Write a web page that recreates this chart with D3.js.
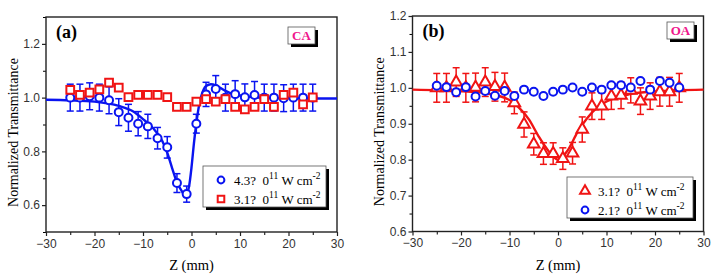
<!DOCTYPE html>
<html>
<head>
<meta charset="utf-8">
<script src="https://cdn.jsdelivr.net/npm/d3@7"></script>
<style>
  body { margin: 0; background: #fff; }
  svg { display: block; }
</style>
</head>
<body>
<script>
// z positions (mm), same for all series
var zPos = [-25, -23, -21, -19, -17, -15, -13, -11, -9, -7, -5, -3, -1,
            1, 3, 5, 7, 9, 11, 13, 15, 17, 19, 21, 23, 25];

// (a) closed aperture
var caBlue = [1.00, 1.00, 1.005, 1.00, 0.99, 0.946, 0.925, 0.903, 0.893, 0.849, 0.815, 0.682, 0.641,
              0.903, 1.012, 1.032, 1.00, 1.013, 1.001, 1.01, 1.00, 1.00, 0.998, 1.00, 1.00, 1.00];
var caBlueErr = [0.05, 0.05, 0.05, 0.05, 0.05, 0.05, 0.05, 0.045, 0.045, 0.04, 0.04, 0.035, 0.03,
                 0.035, 0.045, 0.05, 0.05, 0.05, 0.05, 0.05, 0.05, 0.05, 0.05, 0.05, 0.05, 0.05];
var caRed = [1.029, 1.010, 1.019, 1.031, 1.056, 1.037, 1.002, 1.010, 1.010, 1.010, 1.002, 0.966, 0.966,
             0.985, 0.994, 0.985, 0.994, 0.966, 0.956, 0.966, 0.994, 0.966, 1.01, 1.019, 0.975, 1.001];
var caFitZ = [-30, -25, -20, -15, -12, -10, -8, -6, -5, -4, -3, -2, -1.5, -1, -0.5, 0, 0.5,
              1, 1.5, 2, 2.5, 3, 4, 5, 6, 7, 8, 10, 13, 16, 20, 25, 30];
var caFitT = [0.992, 0.99, 0.985, 0.969, 0.948, 0.92, 0.888, 0.838, 0.795, 0.738, 0.685, 0.652, 0.640, 0.643, 0.67, 0.74, 0.83,
              0.905, 0.965, 1.005, 1.03, 1.043, 1.05, 1.046, 1.036, 1.025, 1.017, 1.008, 1.001, 0.999, 0.998, 0.997, 0.997];

// (b) open aperture
var oaRed = [1.0, 1.0, 1.016, 1.0, 1.001, 1.016, 1.003, 1.001, 0.958, 0.898, 0.843, 0.817, 0.817,
             0.803, 0.818, 0.884, 0.949, 0.949, 0.977, 0.979, 0.993, 0.963, 0.977, 0.989, 0.989, 1.0];
var oaRedErr = [0.04, 0.04, 0.04, 0.04, 0.04, 0.04, 0.04, 0.04, 0.03, 0.035, 0.03, 0.03, 0.03,
                0.03, 0.03, 0.035, 0.037, 0.037, 0.037, 0.037, 0.035, 0.037, 0.037, 0.04, 0.04, 0.04];
var oaBlue = [1.006, 1.002, 0.988, 1.002, 0.976, 0.991, 0.978, 0.991, 0.977, 0.995, 0.989, 0.977, 0.989,
              0.995, 1.001, 0.989, 1.001, 0.995, 1.007, 1.007, 1.001, 1.019, 0.995, 1.019, 1.014, 1.001];
var oaFitZ = [-30, -20, -15, -10, -8, -6, -4, -2, 0, 2, 4, 6, 8, 10, 15, 20, 30];
var oaFitT = [0.995, 0.991, 0.985, 0.966, 0.944, 0.912, 0.865, 0.825, 0.80, 0.826, 0.876, 0.915, 0.944, 0.962, 0.983, 0.99, 0.995];

var xTicks = [-30, -20, -10, 0, 10, 20, 30];

var BLUE = "#0a14f0", RED = "#f01414", PINK = "#f0168c";
var SERIF = "'Liberation Serif', 'Times New Roman', serif";
var SANS = "'Liberation Sans', Arial, sans-serif";

var svg = d3.select("body").append("svg")
    .attr("width", 719)
    .attr("height", 279);

function drawPanel(p) {
    var x = d3.scaleLinear().domain([-30, 30]).range([p.left, p.right]);
    var y = d3.scaleLinear().domain(p.yDomain).range([p.bottom, p.top]);
    var g = svg.append("g");

    // minor ticks
    g.append("g")
        .attr("transform", "translate(0," + p.bottom + ")")
        .call(d3.axisBottom(x).tickValues(d3.range(-25, 30, 10)).tickSize(3).tickFormat(""))
        .call(function (a) { a.select(".domain").remove(); });
    g.append("g")
        .attr("transform", "translate(" + p.left + ",0)")
        .call(d3.axisLeft(y).tickValues(p.yMinor).tickSize(3).tickFormat(""))
        .call(function (a) { a.select(".domain").remove(); });

    // major axes
    var ax = g.append("g")
        .attr("transform", "translate(0," + p.bottom + ")")
        .call(d3.axisBottom(x).tickValues(xTicks).tickSize(4).tickSizeOuter(0).tickPadding(3));
    var ay = g.append("g")
        .attr("transform", "translate(" + p.left + ",0)")
        .call(d3.axisLeft(y).tickValues(p.yTicks).tickSize(4).tickSizeOuter(0).tickPadding(2)
            .tickFormat(d3.format(".1f")));
    [ax, ay].forEach(function (a) {
        a.selectAll(".domain").remove();
        a.selectAll("line").attr("stroke", "#222").attr("stroke-width", 1.2);
        a.selectAll("text").style("font-family", SANS).style("font-size", "12px").attr("fill", "#333");
    });

    // frame
    g.append("rect")
        .attr("x", p.left).attr("y", p.top)
        .attr("width", p.right - p.left).attr("height", p.bottom - p.top)
        .attr("fill", "none").attr("stroke", "#222").attr("stroke-width", 1.4);

    // axis titles
    g.append("text")
        .attr("transform", "translate(" + p.yTitleX + "," + ((p.top + p.bottom) / 2 + 8) + ") rotate(-90)")
        .attr("text-anchor", "middle")
        .style("font-family", SERIF).style("font-size", "14px")
        .text("Normalized Transmittance");
    g.append("text")
        .attr("x", (p.left + p.right) / 2).attr("y", 270)
        .attr("text-anchor", "middle")
        .style("font-family", SERIF).style("font-size", "14.5px")
        .text("Z (mm)");

    // fit line
    var line = d3.line()
        .x(function (d) { return x(d[0]); })
        .y(function (d) { return y(d[1]); })
        .curve(d3.curveMonotoneX);
    g.append("path")
        .datum(d3.zip(p.fitZ, p.fitT))
        .attr("fill", "none")
        .attr("stroke", p.fitColor)
        .attr("stroke-width", 2.4)
        .attr("d", line);

    // series drawn in order
    p.series.forEach(function (s) {
        var data = zPos.map(function (z, i) {
            return { z: z, t: s.values[i], e: s.err ? s.err[i] : 0 };
        });
        var sg = g.append("g");
        if (s.err) {
            var eb = sg.selectAll(".eb").data(data).enter().append("g")
                .attr("stroke", s.color).attr("stroke-width", 1.5);
            eb.append("line")
                .attr("x1", function (d) { return x(d.z); })
                .attr("x2", function (d) { return x(d.z); })
                .attr("y1", function (d) { return y(d.t - d.e); })
                .attr("y2", function (d) { return y(d.t + d.e); });
            [-1, 1].forEach(function (sign) {
                eb.append("line")
                    .attr("x1", function (d) { return x(d.z) - 3.5; })
                    .attr("x2", function (d) { return x(d.z) + 3.5; })
                    .attr("y1", function (d) { return y(d.t + sign * d.e); })
                    .attr("y2", function (d) { return y(d.t + sign * d.e); });
            });
        }
        sg.selectAll(".mk").data(data).enter()
            .append("path")
            .attr("transform", function (d) { return "translate(" + x(d.z) + "," + y(d.t) + ")"; })
            .attr("d", marker(s.shape))
            .attr("fill", "#fff")
            .attr("stroke", s.color)
            .attr("stroke-width", 2);
    });

    // panel label
    g.append("text")
        .attr("x", p.left + 10).attr("y", p.top + 21)
        .style("font-family", SERIF).style("font-weight", "bold").style("font-size", "18px")
        .text(p.label);

    // CA / OA tag with shadow
    var tg = g.append("g").attr("transform", "translate(" + p.tag.x + "," + p.tag.y + ")");
    tg.append("rect").attr("x", 3).attr("y", 3).attr("width", 27).attr("height", 17).attr("fill", "#000");
    tg.append("rect").attr("width", 27).attr("height", 17)
        .attr("fill", "#fff").attr("stroke", "#555").attr("stroke-width", 0.8);
    tg.append("text")
        .attr("x", 13.5).attr("y", 13)
        .attr("text-anchor", "middle")
        .style("font-family", SERIF).style("font-weight", "bold").style("font-size", "13px")
        .attr("fill", PINK)
        .text(p.tag.text);

    // legend
    var lg = g.append("g").attr("transform", "translate(" + p.legend.x + "," + p.legend.y + ")");
    lg.append("rect").attr("x", 3).attr("y", 3).attr("width", p.legend.w).attr("height", 41).attr("fill", "#000");
    lg.append("rect").attr("width", p.legend.w).attr("height", 41)
        .attr("fill", "#fff").attr("stroke", "#555").attr("stroke-width", 0.8);
    p.legend.items.forEach(function (it, i) {
        var cy = 14 + i * 19;
        lg.append("path")
            .attr("transform", "translate(18," + cy + ")")
            .attr("d", marker(it.shape, 0.85))
            .attr("fill", "#fff").attr("stroke", it.color).attr("stroke-width", 2);
        var t = lg.append("text")
            .attr("x", 31).attr("y", cy + 5)
            .style("font-family", SERIF).style("font-size", "13px");
        t.append("tspan").text(it.value + "?\u00a0\u00a00");
        t.append("tspan").attr("dy", -6).style("font-size", "9.5px").text("11");
        t.append("tspan").attr("dy", 6).text("\u00a0W cm");
        t.append("tspan").attr("dy", -6).style("font-size", "9.5px").text("-2");
    });
}

function marker(shape, k) {
    k = k || 1;
    if (shape === "circle") return d3.symbol().type(d3.symbolCircle).size(50 * k * k)();
    if (shape === "square") return d3.symbol().type(d3.symbolSquare).size(60 * k * k)();
    return d3.symbol().type(d3.symbolTriangle).size(58 * k * k)();
}

drawPanel({
    left: 46, right: 337, top: 17, bottom: 232,
    yDomain: [0.5, 1.3], yTicks: [0.6, 0.8, 1.0, 1.2], yMinor: [0.5, 0.7, 0.9, 1.1, 1.3],
    yTitleX: 18, label: "(a)",
    fitZ: caFitZ, fitT: caFitT, fitColor: BLUE,
    series: [
        { values: caBlue, err: caBlueErr, color: BLUE, shape: "circle" },
        { values: caRed, color: RED, shape: "square" }
    ],
    tag: { x: 288, y: 27, text: "CA" },
    legend: { x: 203, y: 166, w: 123, items: [
        { shape: "circle", color: BLUE, value: "4.3" },
        { shape: "square", color: RED, value: "3.1" }
    ] }
});

drawPanel({
    left: 412.5, right: 703.5, top: 16, bottom: 231.5,
    yDomain: [0.6, 1.2], yTicks: [0.6, 0.7, 0.8, 0.9, 1.0, 1.1, 1.2],
    yMinor: [0.65, 0.75, 0.85, 0.95, 1.05, 1.15],
    yTitleX: 384, label: "(b)",
    fitZ: oaFitZ, fitT: oaFitT, fitColor: RED,
    series: [
        { values: oaRed, err: oaRedErr, color: RED, shape: "triangle" },
        { values: oaBlue, color: BLUE, shape: "circle" }
    ],
    tag: { x: 667, y: 22, text: "OA" },
    legend: { x: 567, y: 177, w: 126, items: [
        { shape: "triangle", color: RED, value: "3.1" },
        { shape: "circle", color: BLUE, value: "2.1" }
    ] }
});
</script>
</body>
</html>
